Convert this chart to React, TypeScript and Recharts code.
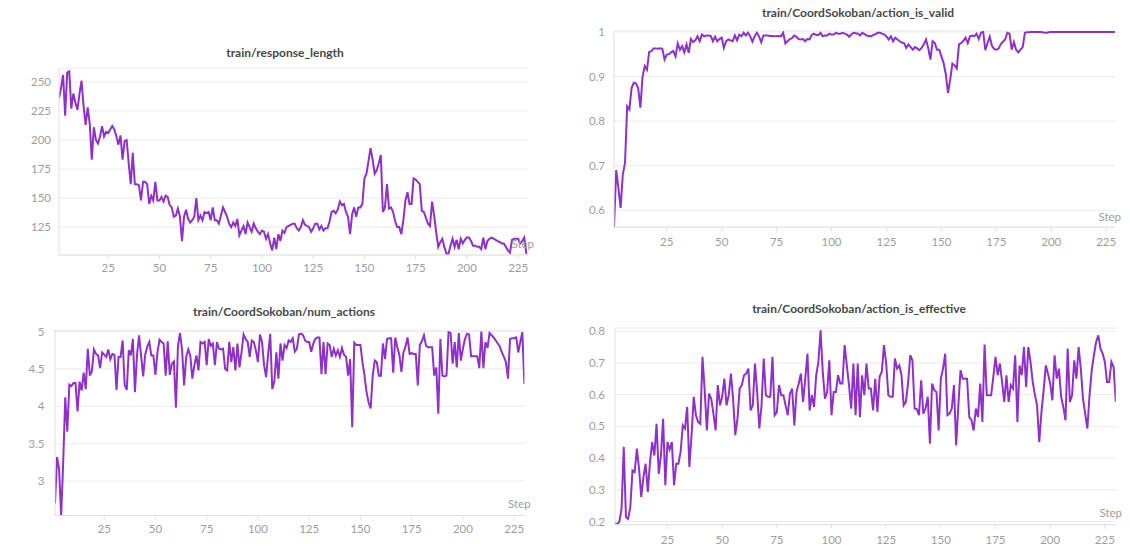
import { LineChart, Line, XAxis, YAxis, CartesianGrid } from "recharts";

const stepTicks = [25, 50, 75, 100, 125, 150, 175, 200, 225];

// train/response_length, steps 1..229
const responseLength = [
  236, 245, 256, 221, 258, 259, 227, 240, 232, 226,
  240, 251, 229, 213, 228, 214, 183, 211, 200, 197,
  203, 212, 203, 207, 206, 209, 212, 209, 203, 196,
  204, 183, 199, 200, 180, 162, 189, 162, 162, 161,
  148, 164, 164, 162, 145, 152, 148, 164, 148, 148,
  151, 147, 152, 151, 144, 142, 134, 135, 141, 134,
  113, 134, 140, 132, 129, 131, 134, 150, 131, 135,
  131, 138, 137, 138, 131, 142, 131, 131, 128, 135,
  142, 138, 134, 128, 125, 129, 126, 132, 118, 122,
  126, 119, 129, 125, 121, 128, 124, 121, 119, 122,
  121, 115, 119, 111, 105, 116, 106, 119, 113, 122,
  120, 125, 126, 127, 128, 128, 124, 122, 125, 131,
  127, 126, 125, 121, 124, 128, 128, 123, 126, 122,
  124, 124, 130, 138, 139, 137, 140, 147, 144, 145,
  138, 134, 119, 136, 142, 134, 142, 142, 145, 167,
  171, 182, 193, 183, 171, 174, 180, 187, 138, 142,
  162, 141, 142, 138, 130, 125, 125, 119, 131, 148,
  155, 145, 145, 167, 166, 164, 162, 139, 138, 133,
  128, 126, 147, 135, 121, 108, 112, 115, 108, 102,
  102, 109, 115, 108, 114, 106, 115, 111, 114, 116,
  116, 113, 109, 109, 108, 108, 106, 116, 106, 113,
  115, 116, 115, 114, 113, 112, 111, 111, 108, 105,
  103, 114, 115, 115, 115, 111, 113, 116, 102,
];
const responseLengthTicks = [125, 150, 175, 200, 225, 250];

// train/CoordSokoban/action_is_valid, steps 1..229
const actionIsValid = [
  0.562, 0.69, 0.65, 0.605, 0.68, 0.706, 0.833, 0.826, 0.874, 0.886,
  0.884, 0.874, 0.83, 0.9, 0.923, 0.915, 0.955, 0.957, 0.963, 0.963,
  0.962, 0.963, 0.962, 0.938, 0.949, 0.95, 0.954, 0.957, 0.945, 0.974,
  0.96, 0.968, 0.954, 0.972, 0.953, 0.984, 0.977, 0.981, 0.99, 0.979,
  0.994, 0.99, 0.992, 0.992, 0.991, 0.979, 0.989, 0.979, 0.984, 0.987,
  0.964, 0.979, 0.983, 0.981, 0.979, 0.992, 0.981, 0.994, 0.99, 0.998,
  0.992, 0.998, 0.99, 0.978, 0.99, 0.998, 0.99, 0.977, 0.992, 0.992,
  0.992, 0.991, 0.991, 0.99, 0.99, 0.991, 0.99, 0.998, 0.974, 0.979,
  0.984, 0.986, 0.992, 0.989, 0.984, 0.983, 0.984, 0.979, 0.984, 0.983,
  0.993, 0.996, 0.993, 0.993, 0.998, 0.99, 0.992, 0.992, 0.996, 0.994,
  0.994, 0.998, 0.996, 0.996, 0.998, 0.996, 0.994, 0.989, 0.994, 0.998,
  0.997, 0.996, 0.992, 0.998, 0.995, 0.992, 0.991, 0.99, 0.993, 0.995,
  0.998, 0.998, 0.996, 0.994, 0.99, 0.983, 0.99, 0.979, 0.987, 0.983,
  0.979, 0.976, 0.975, 0.964, 0.972, 0.966, 0.96, 0.966, 0.963, 0.959,
  0.964, 0.972, 0.983, 0.964, 0.938, 0.979, 0.975, 0.96, 0.96, 0.945,
  0.93, 0.905, 0.863, 0.893, 0.929, 0.925, 0.918, 0.972, 0.975, 0.98,
  0.987, 0.975, 0.99, 0.992, 0.99, 0.996, 0.984, 0.998, 1.0, 0.959,
  0.975, 0.989, 0.969, 0.962, 0.96, 0.962, 0.972, 0.978, 0.983, 0.998,
  0.996, 0.96, 0.977, 0.96, 0.954, 0.96, 0.966, 0.998, 0.999, 0.999,
  1.0, 1.0, 1.0, 1.0, 1.0, 0.999, 0.998, 0.998, 0.999, 1.0,
  1.0, 1.0, 1.0, 1.0, 1.0, 1.0, 1.0, 1.0, 1.0, 1.0,
  1.0, 1.0, 1.0, 1.0, 1.0, 1.0, 1.0, 1.0, 1.0, 1.0,
  1.0, 1.0, 1.0, 1.0, 1.0, 1.0, 1.0, 1.0, 1.0,
];
const actionIsValidTicks = [0.6, 0.7, 0.8, 0.9, 1];

// train/CoordSokoban/num_actions, steps 1..230
const numActions = [
  2.7, 3.32, 3.16, 2.53, 3.25, 4.12, 3.66, 4.29, 4.27, 4.31,
  4.31, 3.93, 4.33, 4.21, 4.45, 4.23, 4.77, 4.41, 4.47, 4.76,
  4.7, 4.68, 4.51, 4.72, 4.69, 4.66, 4.76, 4.63, 4.7, 4.69,
  4.22, 4.66, 4.66, 4.88, 4.28, 4.22, 4.75, 4.68, 4.9, 4.19,
  4.68, 4.95, 4.68, 4.4, 4.69, 4.8, 4.86, 4.68, 4.68, 4.42,
  4.72, 4.89, 4.86, 4.84, 4.41, 4.87, 4.42, 4.57, 4.6, 3.98,
  4.81, 4.98, 4.75, 4.28, 4.66, 4.76, 4.68, 4.37, 4.55, 4.68,
  4.48, 4.86, 4.84, 4.86, 4.55, 4.9, 4.81, 4.84, 4.55, 4.86,
  4.77, 4.76, 4.77, 4.5, 4.48, 4.86, 4.59, 4.79, 4.48, 4.84,
  4.52, 4.72, 4.96, 4.9, 4.86, 4.66, 4.88, 4.86, 4.75, 4.59,
  4.96, 4.86, 4.55, 4.39, 4.7, 4.97, 4.23, 4.33, 4.72, 4.37,
  4.84, 4.61, 4.82, 4.78, 4.88, 4.86, 4.91, 4.73, 4.77, 4.96,
  4.97, 4.95, 4.88, 4.86, 4.86, 4.73, 4.84, 4.9, 4.92, 4.92,
  4.43, 4.86, 4.43, 4.84, 4.82, 4.66, 4.77, 4.68, 4.75, 4.66,
  4.78, 4.69, 4.66, 4.41, 4.63, 3.72, 4.85, 4.82, 4.82, 4.82,
  4.59, 4.41, 4.19, 4.05, 3.97, 4.41, 4.61, 4.59, 4.41, 4.41,
  4.84, 4.63, 4.9, 4.91, 4.91, 4.45, 4.92, 4.79, 4.69, 4.46,
  4.72, 4.8, 4.92, 4.7, 4.71, 4.7, 4.7, 4.28, 4.82, 4.87,
  4.95, 4.81, 4.79, 4.79, 4.79, 4.41, 4.52, 3.9, 4.9, 4.41,
  4.4, 4.41, 4.99, 4.98, 4.57, 4.86, 4.52, 4.98, 4.61, 4.77,
  4.9, 4.97, 4.96, 4.67, 4.67, 4.67, 4.67, 4.51, 5.0, 4.51,
  4.86, 4.78, 4.98, 4.95, 4.92, 4.88, 4.84, 4.8, 4.72, 4.66,
  4.59, 4.37, 4.9, 4.91, 4.91, 4.92, 4.72, 4.86, 4.99, 4.3,
];
const numActionsTicks = [3, 3.5, 4, 4.5, 5];

// train/CoordSokoban/action_is_effective, steps 1..230
const actionIsEffective = [
  0.195, 0.19, 0.2, 0.24, 0.435, 0.214, 0.208, 0.245, 0.361, 0.356,
  0.43, 0.366, 0.277, 0.34, 0.382, 0.293, 0.387, 0.45, 0.408, 0.508,
  0.35, 0.408, 0.524, 0.314, 0.45, 0.427, 0.45, 0.314, 0.382, 0.382,
  0.419, 0.503, 0.493, 0.561, 0.372, 0.472, 0.593, 0.535, 0.514, 0.508,
  0.719, 0.614, 0.487, 0.603, 0.587, 0.54, 0.487, 0.63, 0.566, 0.593,
  0.65, 0.566, 0.598, 0.666, 0.587, 0.472, 0.524, 0.619, 0.63, 0.661,
  0.666, 0.682, 0.55, 0.566, 0.698, 0.608, 0.493, 0.566, 0.714, 0.598,
  0.593, 0.593, 0.719, 0.535, 0.545, 0.63, 0.598, 0.598, 0.566, 0.535,
  0.603, 0.619, 0.503, 0.608, 0.635, 0.666, 0.577, 0.65, 0.729, 0.55,
  0.598, 0.561, 0.661, 0.703, 0.803, 0.672, 0.587, 0.608, 0.708, 0.535,
  0.608, 0.608, 0.661, 0.635, 0.635, 0.756, 0.692, 0.63, 0.556, 0.698,
  0.535, 0.698, 0.529, 0.661, 0.598, 0.698, 0.619, 0.619, 0.55, 0.65,
  0.545, 0.656, 0.672, 0.756, 0.698, 0.598, 0.593, 0.593, 0.714, 0.682,
  0.692, 0.661, 0.566, 0.577, 0.635, 0.724, 0.708, 0.556, 0.554, 0.535,
  0.645, 0.54, 0.556, 0.593, 0.445, 0.635, 0.614, 0.608, 0.487, 0.65,
  0.682, 0.729, 0.535, 0.54, 0.556, 0.63, 0.44, 0.566, 0.677, 0.65,
  0.65, 0.65, 0.529, 0.519, 0.487, 0.556, 0.529, 0.635, 0.514, 0.758,
  0.598, 0.598, 0.598, 0.656, 0.719, 0.661, 0.698, 0.64, 0.577, 0.661,
  0.577, 0.63, 0.619, 0.724, 0.514, 0.692, 0.661, 0.75, 0.624, 0.75,
  0.703, 0.64, 0.6, 0.566, 0.45, 0.545, 0.614, 0.692, 0.666, 0.635,
  0.582, 0.724, 0.65, 0.682, 0.593, 0.561, 0.519, 0.745, 0.577, 0.598,
  0.708, 0.65, 0.75, 0.682, 0.587, 0.54, 0.493, 0.598, 0.677, 0.724,
  0.766, 0.787, 0.745, 0.729, 0.703, 0.64, 0.64, 0.703, 0.687, 0.577,
];
const actionIsEffectiveTicks = [0.2, 0.3, 0.4, 0.5, 0.6, 0.7, 0.8];

const FONT = "Lato, 'Open Sans', sans-serif";
const LINE_COLOR = "#9030cc";
const AXIS_COLOR = "#e0e0e0";
const TICK_COLOR = "#9d9d9d";

type Box = { left: number; top: number; right: number; bottom: number };

type PanelProps = {
  title: string;
  titleX: number;
  titleY: number;
  values: number[];
  yTicks: number[];
  yDomain: [number, number];
  xMax: number;
  box: Box;
  yGap: number;
  xGap: number;
};

const PAD_L = 60;
const PAD_T = 10;
const PAD_R = 14;
const PAD_B = 30;

function Panel({ title, titleX, titleY, values, yTicks, yDomain, xMax, box, yGap, xGap }: PanelProps) {
  const data = values.map((v, i) => ({ step: i + 1, value: v }));
  const w = box.right - box.left + PAD_L + PAD_R;
  const h = box.bottom - box.top + PAD_T + PAD_B;
  return (
    <>
      <div
        style={{
          position: "absolute",
          left: titleX - 200,
          width: 400,
          top: titleY - 8,
          height: 16,
          lineHeight: "16px",
          textAlign: "center",
          fontSize: 12,
          fontWeight: 700,
          color: "#484848",
        }}
      >
        {title}
      </div>
      <div style={{ position: "absolute", left: box.left - PAD_L, top: box.top - PAD_T }}>
        <LineChart width={w} height={h} data={data} margin={{ top: PAD_T, right: PAD_R, bottom: 0, left: 0 }}>
          <CartesianGrid horizontal vertical={false} stroke="#ebebeb" />
          <XAxis
            dataKey="step"
            type="number"
            domain={[1, xMax]}
            ticks={stepTicks}
            height={PAD_B}
            tickSize={4}
            tickMargin={xGap}
            stroke={AXIS_COLOR}
            tick={{ fill: TICK_COLOR, fontSize: 11.5 }}
            allowDataOverflow
          />
          <YAxis
            type="number"
            domain={yDomain}
            ticks={yTicks}
            width={PAD_L}
            tickSize={0}
            tickMargin={yGap}
            stroke={AXIS_COLOR}
            tick={{ fill: TICK_COLOR, fontSize: 11.5 }}
            allowDataOverflow
          />
          <Line
            dataKey="value"
            type="linear"
            stroke={LINE_COLOR}
            strokeWidth={2}
            dot={false}
            isAnimationActive={false}
          />
        </LineChart>
      </div>
      <div
        style={{
          position: "absolute",
          left: box.right + 6 - 40,
          width: 40,
          top: box.bottom - 19,
          height: 16,
          lineHeight: "16px",
          textAlign: "right",
          fontSize: 11.5,
          color: TICK_COLOR,
        }}
      >
        Step
      </div>
    </>
  );
}

export default function App() {
  return (
    <div
      style={{
        position: "absolute",
        left: 0,
        top: 0,
        width: 1130,
        height: 552,
        background: "#fff",
        fontFamily: FONT,
        overflow: "hidden",
      }}
    >
      <Panel
        title="train/response_length"
        titleX={285}
        titleY={53}
        values={responseLength}
        yTicks={responseLengthTicks}
        yDomain={[101, 262]}
        xMax={229.8}
        box={{ left: 59, top: 68, right: 528, bottom: 255 }}
        yGap={8}
        xGap={5}
      />
      <Panel
        title="train/CoordSokoban/action_is_valid"
        titleX={858}
        titleY={13}
        values={actionIsValid}
        yTicks={actionIsValidTicks}
        yDomain={[0.562, 1.002]}
        xMax={229}
        box={{ left: 614, top: 31.4, right: 1115, bottom: 227.6 }}
        yGap={9}
        xGap={7}
      />
      <Panel
        title="train/CoordSokoban/num_actions"
        titleX={284}
        titleY={312}
        values={numActions}
        yTicks={numActionsTicks}
        yDomain={[2.54, 5.02]}
        xMax={230}
        box={{ left: 55.3, top: 329.5, right: 524.7, bottom: 515 }}
        yGap={10.5}
        xGap={5.4}
      />
      <Panel
        title="train/CoordSokoban/action_is_effective"
        titleX={859}
        titleY={309}
        values={actionIsEffective}
        yTicks={actionIsEffectiveTicks}
        yDomain={[0.19, 0.81]}
        xMax={230}
        box={{ left: 615.2, top: 327.8, right: 1116, bottom: 524.4 }}
        yGap={10}
        xGap={7}
      />
    </div>
  );
}
